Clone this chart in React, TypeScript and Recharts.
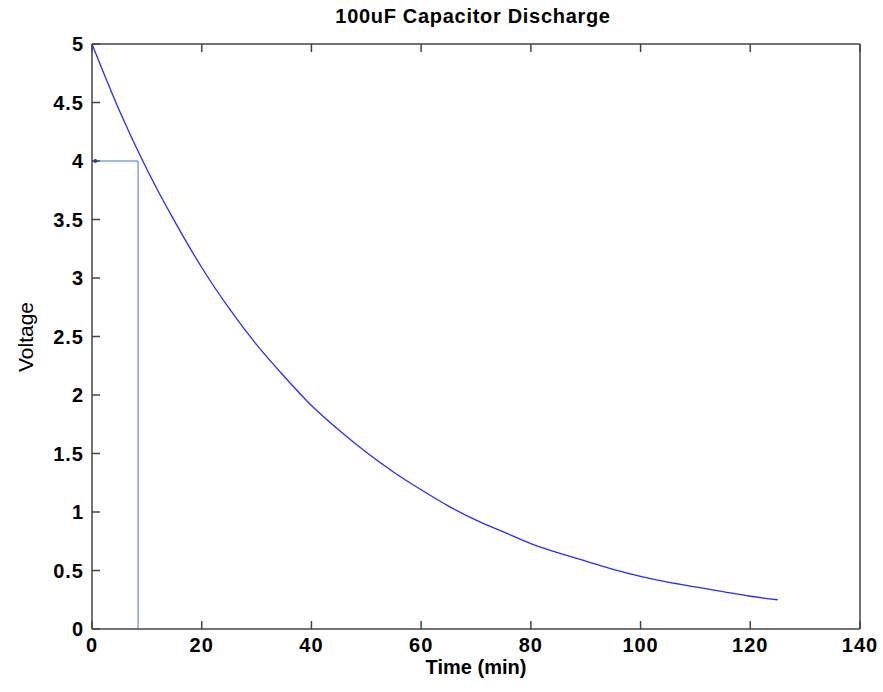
import {
  LineChart,
  Line,
  XAxis,
  YAxis,
  ReferenceLine,
  ReferenceDot,
  Label,
} from 'recharts'

// readings taken off the discharge curve, every 5 minutes
const TIME_MIN = [
  0, 5, 10, 15, 20, 25, 30, 35, 40, 45, 50, 55, 60, 65, 70, 75, 80, 85, 90, 95,
  100, 105, 110, 115, 120, 125,
]
const VOLTAGE = [
  5.0, 4.43, 3.93, 3.49, 3.09, 2.74, 2.43, 2.16, 1.91, 1.7, 1.51, 1.34, 1.19,
  1.05, 0.93, 0.83, 0.73, 0.65, 0.58, 0.51, 0.45, 0.4, 0.36, 0.32, 0.28, 0.25,
]
const X_TICKS = [0, 20, 40, 60, 80, 100, 120, 140]
const Y_TICKS = [0, 0.5, 1, 1.5, 2, 2.5, 3, 3.5, 4, 4.5, 5]

// marker: the time where the voltage reaches 4 V
const MARK_T = 8.4
const MARK_V = 4

const data = TIME_MIN.map((t, i) => ({ t, v: VOLTAGE[i] }))

const AXIS = '#444'
const TICK_LEN = 8
const FONT = 'Arial, "Liberation Sans", sans-serif'

const labelStyle = {
  fontSize: 20,
  fontWeight: 700,
  fill: '#000',
  fontFamily: FONT,
  letterSpacing: 1,
}

// MATLAB style ticks: short marks pointing into the plot, label outside
type TickProps = {
  x: number
  y: number
  payload: { value: number }
}

function BottomTick({ x, y, payload }: TickProps) {
  const base = y - 9
  return (
    <g>
      <line x1={x} x2={x} y1={base} y2={base - TICK_LEN} stroke={AXIS} strokeWidth={1.5} />
      <text x={x} y={y} dy="0.71em" textAnchor="middle" style={labelStyle}>
        {payload.value}
      </text>
    </g>
  )
}

function LeftTick({ x, y, payload }: TickProps) {
  const base = x + 8
  return (
    <g>
      <line x1={base} x2={base + TICK_LEN} y1={y} y2={y} stroke={AXIS} strokeWidth={1.5} />
      <text x={x} y={y} dy="0.355em" textAnchor="end" style={labelStyle}>
        {payload.value}
      </text>
    </g>
  )
}

function TopTick({ x, y }: TickProps) {
  const base = y + 5
  return <line x1={x} x2={x} y1={base} y2={base + TICK_LEN} stroke={AXIS} strokeWidth={1.5} />
}

function RightTick({ x, y }: TickProps) {
  const base = x - 5
  return <line x1={base} x2={base - TICK_LEN} y1={y} y2={y} stroke={AXIS} strokeWidth={1.5} />
}

export default function App() {
  return (
    <div
      style={{
        position: 'absolute',
        left: 0,
        top: 0,
        width: 883,
        height: 692,
        background: '#fff',
        fontFamily: FONT,
      }}
    >
      <div
        style={{
          position: 'absolute',
          left: 0,
          width: 946,
          top: 5,
          textAlign: 'center',
          fontSize: 20,
          fontWeight: 700,
          letterSpacing: 0.7,
          color: '#000',
        }}
      >
        100uF Capacitor Discharge
      </div>
      <LineChart
        width={883}
        height={692}
        data={data}
        margin={{ top: 43, right: 22, bottom: 0, left: 0 }}
      >
        <XAxis
          xAxisId="b"
          dataKey="t"
          type="number"
          domain={[0, 140]}
          ticks={X_TICKS}
          interval={0}
          height={63}
          tickSize={0}
          tickMargin={9}
          tick={BottomTick}
          axisLine={{ stroke: AXIS, strokeWidth: 1.5 }}
          tickLine={false}
        >
          <Label
            value="Time (min)"
            position="insideBottom"
            offset={18}
            style={{ fontSize: 20, fontWeight: 700, fill: '#000', fontFamily: FONT }}
          />
        </XAxis>
        <XAxis
          xAxisId="top"
          orientation="top"
          dataKey="t"
          type="number"
          domain={[0, 140]}
          ticks={X_TICKS}
          interval={0}
          height={1}
          tickSize={0}
          tickMargin={5}
          tick={TopTick}
          axisLine={{ stroke: AXIS, strokeWidth: 1.5 }}
          tickLine={false}
        />
        <YAxis
          yAxisId="l"
          type="number"
          domain={[0, 5]}
          ticks={Y_TICKS}
          interval={0}
          width={92}
          tickSize={0}
          tickMargin={8}
          tick={LeftTick}
          axisLine={{ stroke: AXIS, strokeWidth: 1.5 }}
          tickLine={false}
        >
          <Label
            content={() => (
              <text
                x={25}
                y={337}
                transform="rotate(-90 25 337)"
                textAnchor="middle"
                dominantBaseline="central"
                fontSize={21}
                fontFamily={FONT}
                fill="#000"
              >
                Voltage
              </text>
            )}
          />
        </YAxis>
        <YAxis
          yAxisId="r"
          orientation="right"
          type="number"
          domain={[0, 5]}
          ticks={Y_TICKS}
          interval={0}
          width={1}
          tickSize={0}
          tickMargin={5}
          tick={RightTick}
          axisLine={{ stroke: AXIS, strokeWidth: 1.5 }}
          tickLine={false}
        />
        <ReferenceLine
          xAxisId="b"
          yAxisId="l"
          segment={[
            { x: 0, y: MARK_V },
            { x: MARK_T, y: MARK_V },
          ]}
          stroke="#7ea6da"
          strokeWidth={1.5}
        />
        <ReferenceLine
          xAxisId="b"
          yAxisId="l"
          segment={[
            { x: MARK_T, y: 0 },
            { x: MARK_T, y: MARK_V },
          ]}
          stroke="#7ea6da"
          strokeWidth={1.5}
        />
        <ReferenceDot
          xAxisId="b"
          yAxisId="l"
          x={0.6}
          y={MARK_V}
          r={2}
          fill="#1f3fe0"
          stroke="none"
        />
        <Line
          xAxisId="b"
          yAxisId="l"
          type="monotone"
          dataKey="v"
          stroke="#2b2bff"
          strokeWidth={1.3}
          dot={false}
          isAnimationActive={false}
        />
      </LineChart>
    </div>
  )
}
